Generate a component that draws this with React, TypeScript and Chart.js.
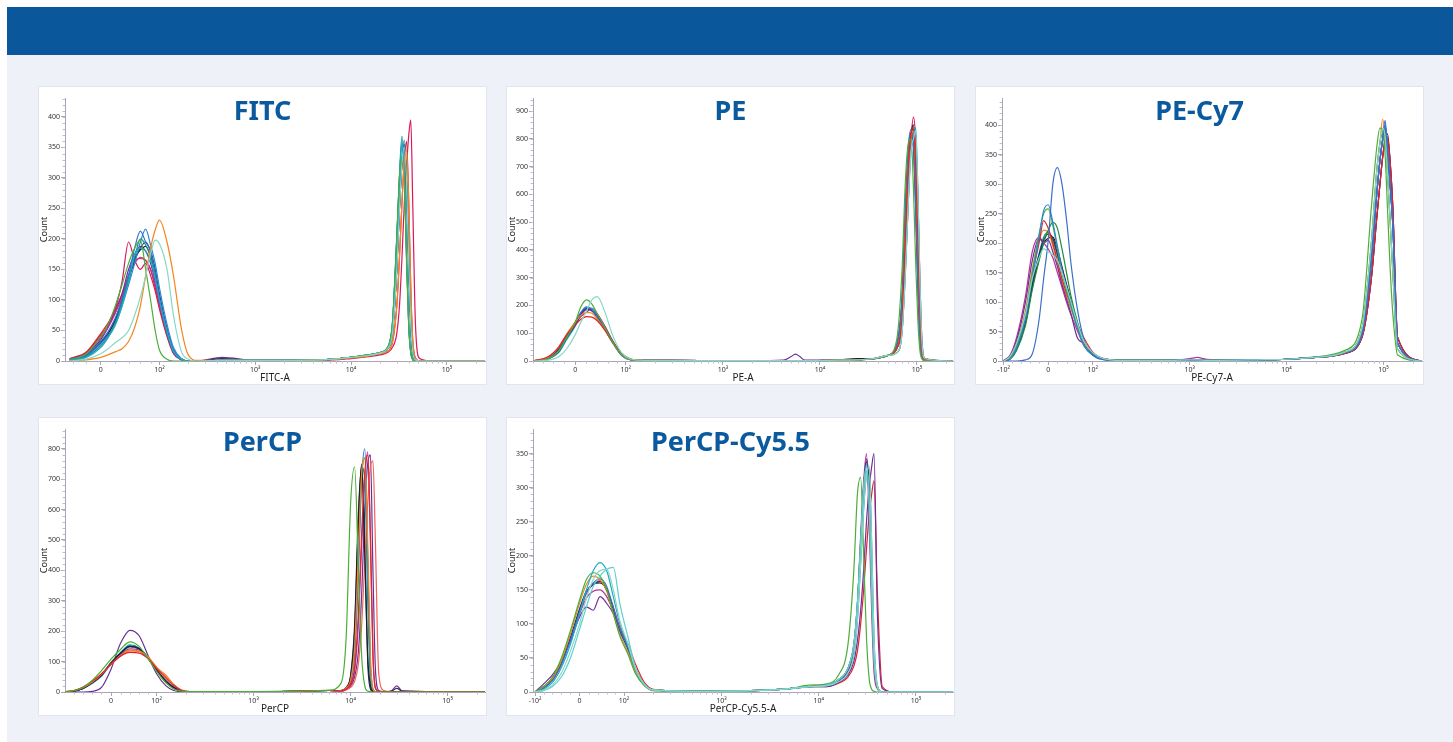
import { useEffect, useRef } from 'react';
import { Chart, Scale, registerables } from 'chart.js';

// biexponential-ish axis: asinh below 100, log10 above
class BiexScale extends Scale {
  static id = 'biex';
  static defaults = {};
  lo = 0;
  hi = 1;
  tf(v: number) {
    const o = (this as any).options;
    if (v >= 100) return o.gap + Math.log10(v / 100);
    return (o.gap * Math.asinh(v / o.w)) / Math.asinh(100 / o.w);
  }
  inv(u: number) {
    const o = (this as any).options;
    if (u >= o.gap) return 100 * Math.pow(10, u - o.gap);
    return o.w * Math.sinh((u * Math.asinh(100 / o.w)) / o.gap);
  }
  determineDataLimits() {
    const o = (this as any).options;
    (this as any).min = o.min;
    (this as any).max = o.max;
  }
  buildTicks() {
    const vals = (this as any).options.tickValues;
    return Array.isArray(vals) ? vals.map((value: number) => ({ value })) : [];
  }
  configure() {
    super.configure();
    this.lo = this.tf((this as any).min);
    this.hi = this.tf((this as any).max);
  }
  getLabelForValue(v: number) {
    return String(v);
  }
  getPixelForValue(v: number) {
    return this.getPixelForDecimal((this.tf(v) - this.lo) / (this.hi - this.lo));
  }
  getValueForPixel(p: number) {
    return this.inv(this.lo + this.getDecimalForPixel(p) * (this.hi - this.lo));
  }
}

Chart.register(...registerables, BiexScale);

const SUP: Record<string, string> = { '2': '²', '3': '³', '4': '⁴', '5': '⁵' };
const fmtTick = (v: number) =>
  v === 0 ? '0' : (v < 0 ? '-' : '') + '10' + SUP[String(Math.round(Math.log10(Math.abs(v))))];

const C = {
  blue: '#3a70c8',
  blue2: '#2b86d6',
  orange: '#f3861f',
  aqua: '#86d8c6',
  lteal: '#5fcfd0',
  green: '#4cae3a',
  dgreen: '#1f8a3a',
  purple: '#6b2f96',
  red: '#e0232a',
  crimson: '#d8175c',
  navy: '#22306e',
  black: '#1e1e1e',
  cyan: '#20a8c8',
  teal: '#15958f',
  magenta: '#b8309a',
  salmon: '#f0645a',
};

const logTicks = [0, 100, 1000, 10000, 100000];
const biexTicks = [-100, 0, 100, 1000, 10000, 100000];

// ---------- FITC ----------
const fitcX = [-45, -20, 0, 10, 20, 30, 40, 50, 60, 70, 80, 90, 100, 120, 140, 170, 200, 250, 450, 1000,
  5000, 10000, 15000, 20000, 24000, 27000, 30000, 32000, 34000, 36000, 38000, 40000, 42000, 44000, 47000, 52000, 70000, 250000];
const fitcCounts = [
  [0, 3, 12, 20, 30, 38, 50, 75, 105, 140, 175, 198, 192, 150, 75, 15, 3, 0, 1, 1, 2, 6, 9, 13, 20, 45, 150, 250, 325, 350, 290, 160, 60, 15, 2, 0, 0, 0],
  [0, 2, 6, 10, 15, 20, 32, 55, 90, 140, 185, 215, 231, 195, 140, 52, 10, 1, 1, 1, 2, 5, 8, 12, 16, 30, 90, 170, 260, 330, 345, 260, 120, 35, 5, 0, 0, 0],
  [2, 12, 40, 60, 90, 125, 160, 185, 198, 150, 100, 50, 18, 3, 0, 0, 0, 0, 1, 1, 2, 6, 10, 14, 22, 60, 200, 300, 335, 300, 160, 55, 12, 2, 0, 0, 0, 0],
  [1, 6, 22, 38, 58, 90, 130, 175, 185, 180, 165, 135, 100, 48, 16, 3, 0, 0, 1, 1, 2, 6, 10, 14, 22, 60, 200, 300, 360, 310, 170, 60, 15, 3, 0, 0, 0, 0],
  [1, 7, 25, 40, 62, 95, 135, 170, 200, 190, 170, 140, 100, 46, 15, 2, 0, 0, 1, 1, 2, 6, 10, 14, 22, 62, 205, 305, 368, 305, 165, 58, 14, 3, 0, 0, 0, 0],
  [1, 8, 28, 42, 60, 90, 125, 160, 195, 216, 190, 160, 120, 60, 22, 4, 0, 0, 1, 1, 2, 6, 9, 13, 20, 45, 150, 250, 325, 362, 290, 160, 60, 15, 2, 0, 0, 0],
  [2, 10, 32, 48, 70, 100, 140, 185, 213, 195, 180, 145, 105, 50, 18, 3, 0, 0, 1, 1, 2, 6, 10, 14, 22, 60, 200, 300, 355, 310, 170, 60, 15, 3, 0, 0, 0, 0],
  [2, 10, 30, 45, 68, 100, 135, 165, 185, 195, 180, 150, 110, 52, 18, 3, 0, 0, 4, 1, 2, 6, 9, 13, 20, 45, 150, 250, 325, 350, 290, 160, 60, 15, 2, 0, 0, 0],
  [2, 9, 30, 44, 66, 98, 132, 168, 182, 188, 172, 140, 104, 50, 17, 3, 0, 0, 1, 1, 2, 6, 9, 13, 20, 48, 160, 260, 330, 355, 285, 150, 55, 12, 2, 0, 0, 0],
  [3, 12, 38, 55, 78, 105, 140, 160, 170, 165, 150, 125, 92, 44, 14, 2, 0, 0, 1, 1, 2, 6, 9, 13, 20, 45, 150, 250, 325, 345, 290, 160, 60, 15, 2, 0, 0, 0],
  [3, 12, 35, 55, 80, 110, 150, 175, 188, 180, 160, 130, 95, 45, 15, 3, 0, 0, 6, 1, 2, 6, 9, 13, 20, 45, 150, 250, 320, 340, 290, 165, 62, 15, 2, 0, 0, 0],
  [4, 15, 45, 62, 85, 110, 140, 165, 168, 165, 150, 120, 90, 42, 14, 2, 0, 0, 1, 1, 2, 5, 8, 12, 16, 30, 90, 170, 260, 330, 360, 260, 120, 35, 5, 0, 0, 0],
  [3, 14, 42, 58, 85, 130, 195, 165, 150, 160, 140, 115, 85, 40, 12, 2, 0, 0, 1, 1, 1, 4, 7, 10, 14, 22, 45, 90, 170, 260, 320, 370, 395, 260, 60, 4, 0, 0],
];
const fitcColors = [C.aqua, C.orange, C.green, C.cyan, C.teal, C.blue2, C.blue, C.navy, C.black, C.magenta, C.purple, C.red, C.crimson];

// ---------- PE ----------
const peX = [-80, -50, -30, -15, 0, 10, 20, 30, 40, 55, 70, 90, 110, 140, 200, 600, 2000, 4200, 5000, 5600, 6200, 7000,
  15000, 24000, 35000, 50000, 62000, 70000, 76000, 82000, 87000, 92000, 97000, 102000, 107000, 112000, 120000, 240000];
const peCounts = [
  [0, 3, 15, 45, 95, 140, 180, 220, 232, 175, 95, 30, 8, 3, 2, 1, 1, 1, 1, 1, 1, 1, 3, 4, 8, 20, 30, 100, 320, 600, 760, 800, 830, 620, 300, 80, 8, 0],
  [0, 8, 35, 85, 140, 195, 220, 205, 170, 120, 70, 22, 5, 3, 2, 1, 1, 1, 1, 1, 1, 1, 3, 4, 8, 20, 80, 320, 650, 790, 800, 620, 350, 150, 40, 8, 1, 0],
  [1, 15, 50, 95, 130, 150, 160, 158, 145, 110, 70, 28, 8, 3, 2, 1, 1, 1, 1, 1, 1, 1, 3, 4, 8, 20, 45, 150, 450, 720, 820, 840, 700, 450, 200, 50, 5, 0],
  [1, 14, 48, 98, 140, 165, 175, 172, 150, 112, 68, 24, 7, 3, 2, 1, 1, 1, 1, 1, 1, 1, 3, 4, 8, 20, 45, 150, 450, 720, 810, 830, 700, 450, 200, 50, 5, 0],
  [0, 9, 38, 88, 138, 175, 195, 185, 158, 112, 66, 20, 5, 3, 2, 1, 1, 1, 1, 1, 1, 1, 3, 4, 8, 20, 60, 220, 550, 780, 835, 780, 550, 280, 90, 15, 2, 0],
  [0, 9, 36, 86, 132, 165, 185, 180, 158, 116, 70, 22, 6, 3, 2, 1, 1, 3, 15, 25, 16, 3, 3, 4, 8, 20, 60, 220, 550, 770, 810, 770, 550, 280, 90, 15, 2, 0],
  [0, 8, 34, 84, 130, 168, 188, 184, 160, 118, 70, 22, 6, 3, 2, 1, 1, 1, 1, 1, 1, 1, 3, 4, 8, 20, 45, 150, 450, 720, 820, 835, 700, 450, 200, 50, 5, 0],
  [0, 7, 30, 78, 125, 165, 192, 190, 165, 120, 72, 24, 6, 3, 2, 1, 1, 1, 1, 1, 1, 1, 3, 4, 8, 20, 30, 100, 320, 600, 760, 800, 840, 620, 300, 80, 8, 0],
  [0, 8, 36, 86, 133, 170, 188, 182, 158, 114, 68, 22, 6, 3, 2, 1, 1, 1, 1, 1, 1, 1, 3, 4, 8, 20, 60, 220, 550, 780, 820, 780, 550, 280, 90, 15, 2, 0],
  [0, 10, 42, 95, 140, 172, 190, 182, 160, 118, 72, 24, 6, 3, 2, 1, 1, 1, 1, 1, 1, 1, 3, 9, 8, 20, 45, 150, 450, 720, 820, 850, 700, 450, 200, 50, 5, 0],
  [1, 12, 45, 92, 135, 160, 175, 190, 170, 125, 75, 26, 7, 3, 2, 1, 1, 1, 1, 1, 1, 1, 3, 4, 8, 20, 30, 100, 330, 600, 800, 878, 800, 600, 300, 90, 10, 0],
];
const peColors = [C.aqua, C.green, C.red, C.orange, C.blue, C.purple, C.navy, C.cyan, C.teal, C.black, C.crimson];

// ---------- PE-Cy7 ----------
const cy7X = [-100, -85, -70, -50, -35, -20, -10, 0, 10, 20, 30, 40, 50, 65, 80, 100, 130, 200, 600, 1000, 1200, 1500, 5000,
  10000, 20000, 40000, 60000, 75000, 85000, 92000, 98000, 104000, 110000, 117000, 125000, 140000, 250000];
const cy7Counts = [
  [0, 8, 30, 80, 140, 175, 190, 185, 180, 170, 150, 125, 100, 62, 32, 14, 4, 1, 1, 2, 2, 1, 2, 3, 6, 15, 55, 200, 320, 370, 395, 380, 320, 240, 150, 20, 0],
  [0, 0, 0, 2, 12, 70, 140, 205, 300, 328, 300, 240, 165, 85, 35, 10, 2, 0, 1, 2, 2, 1, 2, 3, 6, 14, 45, 170, 280, 340, 375, 408, 360, 300, 230, 30, 0],
  [0, 4, 22, 70, 140, 210, 255, 265, 235, 195, 155, 125, 95, 55, 25, 10, 3, 1, 1, 2, 2, 1, 2, 3, 6, 14, 45, 170, 280, 340, 375, 400, 360, 300, 230, 30, 0],
  [0, 5, 26, 78, 150, 215, 250, 258, 230, 190, 150, 120, 92, 55, 26, 10, 3, 1, 1, 2, 2, 1, 2, 3, 7, 18, 70, 260, 360, 395, 390, 350, 260, 160, 80, 10, 0],
  [0, 3, 18, 60, 120, 170, 200, 222, 235, 225, 190, 150, 110, 65, 32, 12, 3, 1, 1, 2, 2, 1, 2, 3, 6, 15, 55, 200, 320, 370, 385, 380, 320, 240, 150, 20, 0],
  [0, 6, 28, 80, 145, 200, 238, 225, 200, 170, 140, 115, 95, 62, 38, 15, 4, 1, 1, 2, 2, 1, 2, 3, 6, 13, 40, 140, 240, 300, 345, 375, 380, 340, 260, 40, 0],
  [0, 8, 35, 100, 170, 208, 200, 205, 185, 160, 130, 105, 80, 38, 30, 12, 3, 1, 1, 2, 2, 1, 2, 3, 6, 13, 40, 140, 240, 300, 345, 370, 375, 340, 260, 40, 0],
  [1, 10, 40, 110, 185, 210, 200, 190, 175, 150, 125, 100, 78, 50, 25, 10, 3, 1, 1, 4, 6, 3, 2, 3, 6, 14, 45, 170, 280, 340, 375, 390, 360, 300, 230, 30, 0],
  [0, 6, 30, 85, 155, 205, 222, 218, 195, 165, 135, 110, 88, 55, 30, 12, 4, 1, 1, 2, 2, 1, 2, 3, 6, 15, 55, 200, 320, 370, 410, 380, 320, 240, 150, 20, 0],
  [0, 4, 22, 68, 130, 180, 205, 215, 208, 182, 155, 128, 100, 60, 30, 12, 3, 1, 1, 2, 2, 1, 2, 3, 6, 14, 45, 170, 280, 340, 375, 395, 360, 300, 230, 30, 0],
  [0, 4, 20, 65, 125, 175, 200, 208, 210, 190, 160, 130, 102, 62, 32, 12, 4, 1, 1, 2, 2, 1, 2, 3, 6, 13, 40, 140, 240, 300, 345, 375, 385, 340, 260, 40, 0],
  [0, 5, 24, 72, 135, 182, 210, 218, 205, 178, 150, 124, 98, 58, 28, 11, 3, 1, 1, 2, 2, 1, 2, 3, 6, 14, 45, 170, 280, 340, 375, 400, 360, 300, 230, 30, 0],
];
const cy7Colors = [C.aqua, C.blue, C.blue2, C.green, C.dgreen, C.red, C.purple, C.magenta, C.orange, C.navy, C.black, C.teal];

// ---------- PerCP ----------
const percpX = [-100, -80, -60, -40, -20, 0, 20, 40, 60, 80, 100, 125, 150, 180, 220, 600, 2500, 6000,
  8000, 9000, 10000, 11000, 12000, 13000, 14000, 15000, 16000, 17000, 18000, 19500, 22000, 26000, 30000, 34000, 250000];
const percpCounts = [
  [1, 5, 15, 38, 70, 108, 140, 165, 150, 110, 68, 30, 10, 3, 1, 1, 2, 6, 30, 180, 620, 740, 420, 120, 20, 3, 1, 0, 0, 0, 0, 0, 0, 0, 0],
  [1, 5, 16, 35, 60, 92, 118, 130, 128, 110, 78, 45, 22, 6, 1, 1, 2, 5, 4, 10, 28, 80, 250, 520, 720, 780, 500, 120, 15, 1, 0, 0, 1, 0, 0],
  [1, 4, 14, 32, 58, 92, 120, 138, 135, 115, 80, 55, 25, 6, 1, 1, 2, 5, 5, 14, 40, 150, 450, 720, 770, 500, 120, 10, 1, 0, 0, 0, 1, 0, 0],
  [0, 3, 12, 30, 55, 95, 127, 150, 142, 112, 72, 35, 15, 4, 1, 1, 2, 5, 5, 15, 50, 200, 550, 750, 450, 120, 20, 3, 0, 0, 0, 0, 0, 0, 0],
  [0, 3, 11, 28, 52, 92, 125, 148, 140, 110, 70, 34, 14, 4, 1, 1, 2, 5, 4, 12, 35, 120, 380, 700, 800, 450, 100, 10, 1, 0, 0, 0, 0, 0, 0],
  [1, 4, 14, 33, 58, 90, 118, 135, 133, 115, 82, 50, 24, 6, 1, 1, 2, 5, 3, 7, 15, 35, 90, 220, 430, 620, 740, 760, 500, 60, 5, 1, 1, 1, 0],
  [0, 3, 12, 30, 56, 96, 128, 150, 143, 112, 72, 35, 15, 4, 1, 1, 2, 5, 5, 15, 55, 220, 580, 745, 480, 100, 10, 1, 0, 0, 0, 2, 12, 3, 0],
  [0, 3, 12, 30, 55, 95, 128, 152, 143, 112, 72, 35, 15, 4, 1, 1, 2, 5, 4, 12, 38, 130, 420, 700, 770, 430, 80, 5, 0, 0, 0, 0, 0, 0, 0],
  [0, 3, 12, 31, 57, 97, 130, 155, 145, 113, 72, 35, 15, 4, 1, 1, 2, 5, 5, 14, 45, 170, 500, 740, 700, 300, 40, 3, 0, 0, 0, 0, 0, 0, 0],
  [0, 4, 13, 31, 56, 93, 122, 142, 138, 112, 74, 38, 17, 5, 1, 1, 2, 5, 3, 9, 25, 70, 220, 480, 700, 790, 520, 130, 12, 1, 0, 0, 0, 0, 0],
  [0, 0, 0, 2, 15, 75, 160, 203, 185, 120, 60, 20, 5, 1, 0, 1, 2, 5, 3, 8, 20, 50, 130, 320, 600, 750, 780, 400, 80, 5, 1, 3, 20, 4, 0],
];
const percpColors = [C.green, C.red, C.orange, C.black, C.blue, C.salmon, C.navy, C.cyan, C.teal, C.magenta, C.purple];

// ---------- PerCP-Cy5.5 ----------
const cy55X = [-100, -80, -60, -40, -20, 0, 15, 30, 45, 60, 75, 90, 110, 130, 160, 200, 500, 2000, 5000, 8000,
  12000, 16000, 20000, 23000, 25000, 27000, 29000, 31000, 33000, 35000, 37000, 40000, 45000, 60000, 250000];
const cy55Counts = [
  [0, 3, 10, 28, 60, 100, 138, 165, 178, 180, 150, 105, 70, 35, 12, 3, 1, 2, 5, 8, 9, 15, 28, 55, 105, 190, 270, 320, 330, 220, 80, 10, 0, 0, 0],
  [0, 2, 8, 22, 50, 92, 125, 155, 170, 180, 183, 130, 80, 38, 12, 3, 1, 2, 5, 8, 10, 18, 35, 70, 130, 220, 300, 330, 280, 150, 50, 8, 0, 0, 0],
  [0, 4, 14, 36, 70, 115, 150, 178, 190, 178, 140, 100, 68, 34, 12, 3, 1, 2, 5, 8, 10, 18, 35, 70, 130, 220, 300, 335, 280, 150, 50, 8, 0, 0, 0],
  [0, 8, 22, 50, 90, 135, 165, 175, 170, 150, 115, 82, 55, 28, 10, 2, 1, 2, 5, 10, 12, 25, 70, 180, 290, 315, 200, 80, 20, 4, 1, 0, 0, 0, 0],
  [0, 8, 20, 46, 85, 130, 158, 170, 165, 148, 115, 85, 58, 30, 10, 2, 1, 2, 5, 8, 10, 18, 35, 70, 130, 220, 300, 330, 280, 150, 50, 8, 0, 0, 0],
  [0, 6, 17, 40, 76, 118, 146, 160, 166, 155, 124, 92, 64, 32, 11, 3, 1, 2, 5, 8, 9, 15, 28, 55, 105, 190, 270, 320, 330, 220, 80, 10, 0, 0, 0],
  [0, 7, 19, 44, 80, 122, 148, 158, 162, 150, 120, 90, 62, 32, 11, 3, 1, 2, 5, 8, 10, 18, 35, 70, 130, 220, 300, 338, 280, 150, 50, 8, 0, 0, 0],
  [0, 8, 20, 44, 78, 115, 138, 148, 150, 140, 118, 90, 64, 35, 12, 3, 1, 2, 5, 8, 10, 17, 32, 65, 125, 230, 310, 350, 250, 120, 30, 5, 0, 0, 0],
  [0, 12, 25, 45, 75, 110, 125, 120, 140, 130, 115, 90, 65, 35, 12, 3, 1, 2, 5, 8, 8, 14, 25, 45, 75, 120, 180, 250, 300, 330, 350, 120, 5, 0, 0],
  [0, 7, 18, 42, 78, 118, 145, 158, 163, 150, 125, 95, 70, 42, 15, 4, 1, 2, 5, 8, 8, 13, 22, 38, 60, 100, 150, 210, 260, 290, 310, 150, 8, 0, 0],
  [0, 6, 18, 42, 78, 120, 146, 158, 160, 150, 122, 92, 64, 33, 11, 3, 1, 2, 5, 8, 10, 16, 30, 60, 120, 210, 300, 342, 300, 160, 60, 8, 0, 0, 0],
];
const cy55Colors = [C.aqua, C.lteal, C.cyan, C.green, C.orange, C.blue, C.navy, C.magenta, C.purple, C.red, C.black];

const AXIS = '#a9a4b6';
const FONT = '"Noto Sans", "DejaVu Sans", sans-serif';

const minorTicks = {
  id: 'minorTicks',
  afterDraw(chart: any, _args: any, opts: any) {
    const xs = chart.scales.x;
    const ys = chart.scales.y;
    const ctx = chart.ctx;
    ctx.save();
    ctx.strokeStyle = '#c2bdcc';
    ctx.lineWidth = 1;
    ctx.beginPath();
    for (let v = opts.yStep; v < ys.max; v += opts.yStep) {
      const p = Math.round(ys.getPixelForValue(v)) + 0.5;
      ctx.moveTo(ys.right - 2.5, p);
      ctx.lineTo(ys.right, p);
    }
    const vals: number[] = [];
    for (let v = -80; v <= 80; v += 20) if (v !== 0) vals.push(v);
    for (let d = 2; d <= 5; d++) for (let k = 2; k <= 9; k++) vals.push(k * Math.pow(10, d));
    for (const v of vals) {
      if (v <= xs.min || v >= xs.max) continue;
      const p = Math.round(xs.getPixelForValue(v)) + 0.5;
      ctx.moveTo(p, xs.top);
      ctx.lineTo(p, xs.top + 2.5);
    }
    ctx.stroke();
    ctx.restore();
  },
};

interface HistProps {
  title: string;
  xTitle: string;
  xs: number[];
  counts: number[][];
  colors: string[];
  gap: number;
  w: number;
  xMin: number;
  xMax: number;
  xTicks: number[];
  yMax: number;
  yStep: number;
  yMinor: number;
  left: number;
  top: number;
}

function Histogram(p: HistProps) {
  const canvasRef = useRef<HTMLCanvasElement>(null);

  useEffect(() => {
    if (!canvasRef.current) return;
    const chart = new Chart(canvasRef.current, {
      type: 'line',
      data: {
        datasets: p.counts.map((ys, i) => ({
          data: p.xs.map((x, j) => ({ x, y: ys[j] })),
          borderColor: p.colors[i],
          borderWidth: 1.2,
          pointRadius: 0,
          fill: false,
          cubicInterpolationMode: 'monotone' as const,
        })),
      },
      options: {
        animation: false,
        responsive: true,
        maintainAspectRatio: false,
        events: [],
        layout: { padding: { top: 11, right: 1 } },
        plugins: {
          legend: { display: false },
          tooltip: { enabled: false },
          minorTicks: { yStep: p.yMinor },
        } as any,
        scales: {
          x: {
            type: 'biex',
            min: p.xMin,
            max: p.xMax,
            gap: p.gap,
            w: p.w,
            tickValues: p.xTicks,
            border: { color: AXIS },
            grid: { drawOnChartArea: false, tickLength: 4, color: AXIS },
            ticks: {
              callback: (v: any) => fmtTick(Number(v)),
              font: { size: 7, family: FONT },
              color: '#333',
              padding: 1,
              maxRotation: 0,
              autoSkip: false,
            },
            title: { display: true, text: p.xTitle, font: { size: 10, family: FONT }, color: '#222', padding: 0 },
            afterFit: (s: any) => {
              s.height = 23;
            },
          } as any,
          y: {
            type: 'linear',
            min: 0,
            max: p.yMax,
            border: { color: AXIS },
            grid: { drawOnChartArea: false, tickLength: 4, color: AXIS },
            ticks: {
              stepSize: p.yStep,
              includeBounds: false,
              font: { size: 7, family: FONT },
              color: '#333',
              padding: 1,
            },
            title: { display: true, text: 'Count', font: { size: 9, family: FONT }, color: '#222', padding: 0 },
            afterFit: (s: any) => {
              s.width = 26;
            },
          },
        },
      },
      plugins: [minorTicks],
    });
    return () => chart.destroy();
  }, []);

  return (
    <div
      style={{
        position: 'absolute',
        left: p.left,
        top: p.top,
        width: 449,
        height: 299,
        background: '#fff',
        border: '1px solid #e0e5ee',
        boxSizing: 'border-box',
      }}
    >
      <div style={{ position: 'absolute', inset: 0 }}>
        <canvas ref={canvasRef} />
      </div>
      <div
        style={{
          position: 'absolute',
          top: 9,
          left: 0,
          right: 0,
          textAlign: 'center',
          fontFamily: FONT,
          fontWeight: 700,
          fontSize: 27,
          lineHeight: 1,
          color: '#0b5a9e',
          pointerEvents: 'none',
        }}
      >
        {p.title}
      </div>
    </div>
  );
}

export default function App() {
  return (
    <div style={{ position: 'absolute', left: 7, top: 7, width: 1446, height: 735, background: '#eef2f8', overflow: 'hidden' }}>
      <div style={{ height: 48, background: '#0a579c' }} />
      <Histogram title="FITC" xTitle="FITC-A" xs={fitcX} counts={fitcCounts} colors={fitcColors}
        gap={0.613} w={68} xMin={-53} xMax={250000} xTicks={logTicks} yMax={431} yStep={50} yMinor={10} left={31} top={79} />
      <Histogram title="PE" xTitle="PE-A" xs={peX} counts={peCounts} colors={peColors}
        gap={0.521} w={112} xMin={-81} xMax={235000} xTicks={logTicks} yMax={947} yStep={100} yMinor={20} left={499} top={79} />
      <Histogram title="PE-Cy7" xTitle="PE-Cy7-A" xs={cy7X} counts={cy7Counts} colors={cy7Colors}
        gap={0.46} w={230} xMin={-104} xMax={250000} xTicks={biexTicks} yMax={446} yStep={50} yMinor={10} left={968} top={79} />
      <Histogram title="PerCP" xTitle="PerCP" xs={percpX} counts={percpCounts} colors={percpColors}
        gap={0.47} w={185} xMin={-101} xMax={243000} xTicks={logTicks} yMax={865} yStep={100} yMinor={20} left={31} top={410} />
      <Histogram title="PerCP-Cy5.5" xTitle="PerCP-Cy5.5-A" xs={cy55X} counts={cy55Counts} colors={cy55Colors}
        gap={0.457} w={245} xMin={-105} xMax={240000} xTicks={biexTicks} yMax={386} yStep={50} yMinor={10} left={499} top={410} />
    </div>
  );
}
